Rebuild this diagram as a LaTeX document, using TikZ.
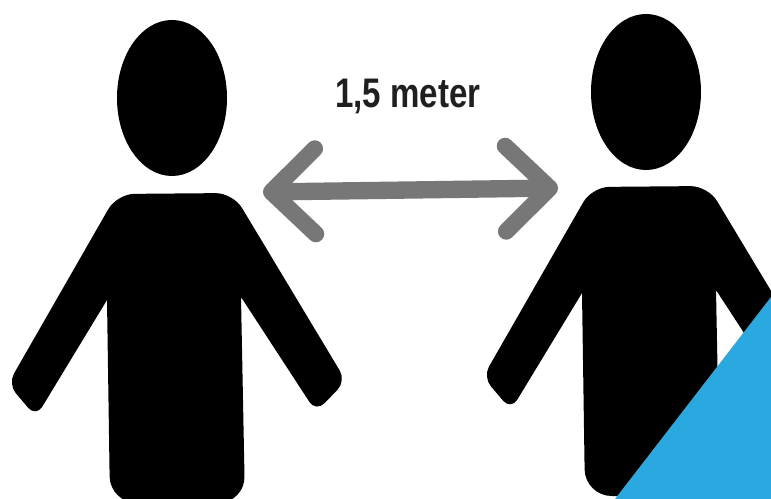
\documentclass[tikz,border=0pt]{standalone}
\usepackage{fontspec}
\setmainfont{Liberation Sans}
\usetikzlibrary{arrows.meta,shapes.geometric}
\definecolor{GapGrey}{HTML}{777777}
\definecolor{CornerBlue}{HTML}{29A9E0}
\begin{document}
\begin{tikzpicture}[
    x=0.75pt,y=-0.75pt,
    head/.style={ellipse,fill=black,inner sep=0pt,minimum width=82.5pt,minimum height=117pt},
    gap/.style={{Straight Barb[round,length=33pt,width=64pt,line width=12.5pt]}-{Straight Barb[round,length=33pt,width=64pt,line width=12.5pt]},GapGrey,line width=13pt},
    label/.style={font=\bfseries\fontsize{31pt}{31pt}\selectfont,xscale=0.8,inner sep=0pt,text=black!88},
    person/.pic={
      \fill[rounded corners=13pt] (117,194) -- (233,193)
        [rounded corners=9pt] -- (346,381) -- (316,412)
        [sharp corners] -- (241,297)
        [rounded corners=20pt] -- (245,503) -- (110,503)
        [sharp corners] -- (107,300)
        [rounded corners=9pt] -- (36,417) -- (8,384)
        [rounded corners=13pt] -- cycle;
    }
  ]
    \clip (0,0) rectangle (771,499);
    \fill[white] (0,0) rectangle (771,499);
    \node[head] (headA) at (172,98) {};
    \node[head] (headB) at (646,92) {};
    \pic (bodyA) at (0,0) {person};
    \pic (bodyB) at (475,-7) {person};
    \node[label] (dist) at (408,96) {1,5 meter};
    \coordinate (gapA) at (263,192);
    \coordinate (gapB) at (558,188);
    \draw[gap] (gapA) -- (gapB);
    \fill[CornerBlue] (771,297) -- (771,499) -- (615,499) -- cycle;
  \end{tikzpicture}
\end{document}
